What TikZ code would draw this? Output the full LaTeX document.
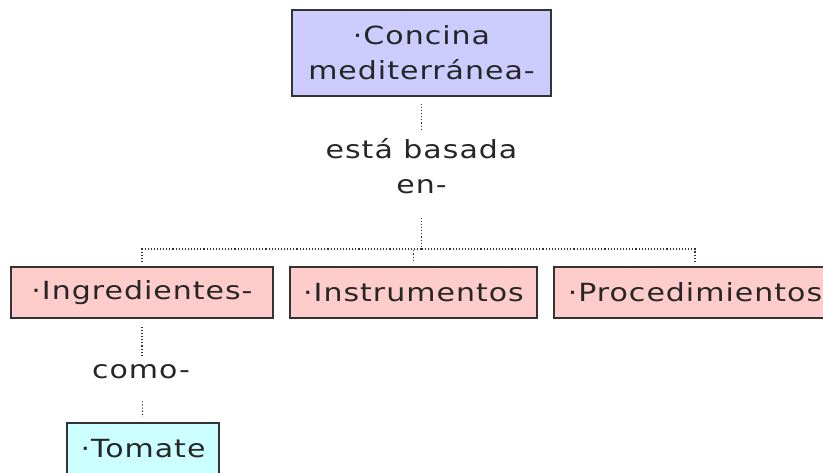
\documentclass[tikz,border=0pt]{standalone}
\usepackage{fontspec}
\setmainfont[FakeStretch=1.2,LetterSpace=4]{DejaVu Sans}
\usetikzlibrary{positioning, calc}
\definecolor{conceptblue}{HTML}{CCCCFF}
\definecolor{conceptpink}{HTML}{FFCCCC}
\definecolor{conceptcyan}{HTML}{CCFFFF}
\definecolor{edgegray}{HTML}{333333}

\begin{document}
\begin{tikzpicture}[x=1pt,y=-1pt,font=\fontsize{25}{35}\selectfont,text=black!85,concept/.style={draw=edgegray, line width=1.6pt, inner sep=0pt, align=center, minimum height=51pt},linker/.style={align=center, inner sep=0pt},link/.style={draw=black!80, line width=1.1pt, dash pattern=on 1.1pt off 2pt}]

\useasboundingbox (0,0) rectangle (823,472);

% Define concepts
\node[concept,fill=conceptblue,minimum width=259pt,minimum height=86pt] (cocina) at (421.5,53) {·Concina\\mediterránea-};
\node[concept,fill=conceptpink,minimum width=262pt] (ingredientes) at (142,292.5) {·Ingredientes-};
\node[concept,fill=conceptpink,minimum width=247pt] (instrumentos) at (413.5,292.5) {·Instrumentos};
\node[concept,fill=conceptpink,minimum width=282pt] (procedimientos) at (695,292.5) {·Procedimientos};
\node[concept,fill=conceptcyan,minimum width=152pt] (tomate) at (143,448.5) {·Tomate};

% Linking phrases
\node[linker] (basada) at (421.5,166) {está basada\\en-};
\node[linker] (como) at (141,372) {como-};
\coordinate (bus) at (421.5,249);

% Links
\draw[link,shorten <=7pt,shorten >=7pt] (cocina) -- (basada);
\draw[link,shorten <=24pt] (basada) -- (bus);
\draw[link,shorten >=4pt] (bus) -| (ingredientes);
\draw[link,shorten >=4pt] (bus) -| (instrumentos);
\draw[link,shorten >=4pt] (bus) -| (procedimientos);
\draw[link,shorten <=8pt,shorten >=8pt] (ingredientes.south) -- (ingredientes.south |- como.north);
\draw[link,shorten <=22pt,shorten >=5pt] (ingredientes.south |- como.south) -- (tomate);
\end{tikzpicture}
\end{document}
